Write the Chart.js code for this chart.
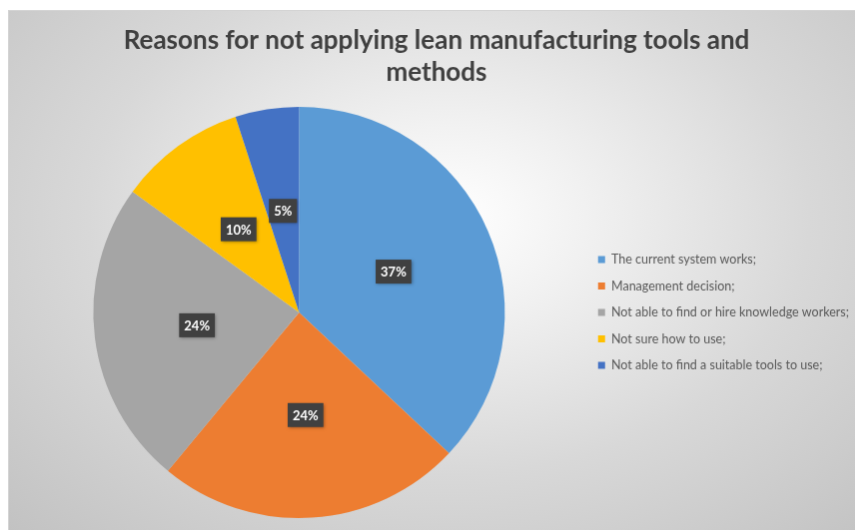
<!DOCTYPE html>
<html>
<head>
<meta charset="utf-8">
<script src="https://cdn.jsdelivr.net/npm/chart.js@4"></script>
<style>
  html, body { margin: 0; padding: 0; background: #ffffff; overflow: hidden; }
  #chartPie {
    position: absolute;
    left: 8px;
    top: 10px;
    border-top: 1px solid #d4d4d4;
    border-left: 1px solid #d4d4d4;
    background: radial-gradient(ellipse farthest-corner at 52% 40%, #ffffff 0%, #f1f1f1 22%, #d8d8d8 58%, #c2c2c2 100%);
  }
</style>
</head>
<body>
<canvas id="chartPie" width="847" height="520"></canvas>
<script>
const titleLines = ["Reasons for not applying lean manufacturing tools and", "methods"];
const reasons = [
  "The current system works;",
  "Management decision;",
  "Not able to find or hire knowledge workers;",
  "Not sure how to use;",
  "Not able to find a suitable tools to use;",
];
const percents = [37, 24, 24, 10, 5];
const sliceColors = ["#5b9bd5", "#ed7d31", "#a5a5a5", "#ffc000", "#4472c4"];

// dark value boxes sitting halfway out on each slice
const valueBoxes = {
  id: "valueBoxes",
  afterDatasetsDraw(chart) {
    const ctx = chart.ctx;
    const meta = chart.getDatasetMeta(0);
    ctx.save();
    ctx.font = "bold 13px Lato";
    ctx.textAlign = "center";
    ctx.textBaseline = "middle";
    meta.data.forEach((arc, i) => {
      const p = arc.getCenterPoint();
      const txt = chart.data.datasets[0].data[i] + "%";
      const w = ctx.measureText(txt).width + 10;
      const h = 24;
      ctx.shadowColor = "rgba(0,0,0,0.35)";
      ctx.shadowBlur = 3;
      ctx.shadowOffsetX = 1;
      ctx.shadowOffsetY = 1;
      ctx.fillStyle = "#404040";
      ctx.fillRect(p.x - w / 2, p.y - h / 2, w, h);
      ctx.shadowColor = "transparent";
      ctx.fillStyle = "#ffffff";
      ctx.fillText(txt, p.x, p.y + 1);
    });
    ctx.restore();
  },
};

const ctxPie = document.getElementById("chartPie");
new Chart(ctxPie, {
  type: "pie",
  data: {
    labels: reasons,
    datasets: [
      {
        data: percents,
        backgroundColor: sliceColors,
        borderWidth: 0,
      },
    ],
  },
  options: {
    responsive: false,
    animation: false,
    layout: { padding: { left: 5, right: -4, top: 0, bottom: 12 } },
    plugins: {
      title: {
        display: true,
        text: titleLines,
        color: "#404040",
        font: { family: "Lato", size: 26, weight: "bold", lineHeight: 1.23 },
        padding: { top: 14, bottom: 18 },
      },
      legend: {
        position: "right",
        fullSize: false,
        labels: {
          boxWidth: 7,
          boxHeight: 7,
          padding: 14,
          color: "#595959",
          font: { family: "Lato", size: 12.5 },
        },
      },
      tooltip: { enabled: false },
    },
  },
  plugins: [valueBoxes],
});
</script>
</body>
</html>
